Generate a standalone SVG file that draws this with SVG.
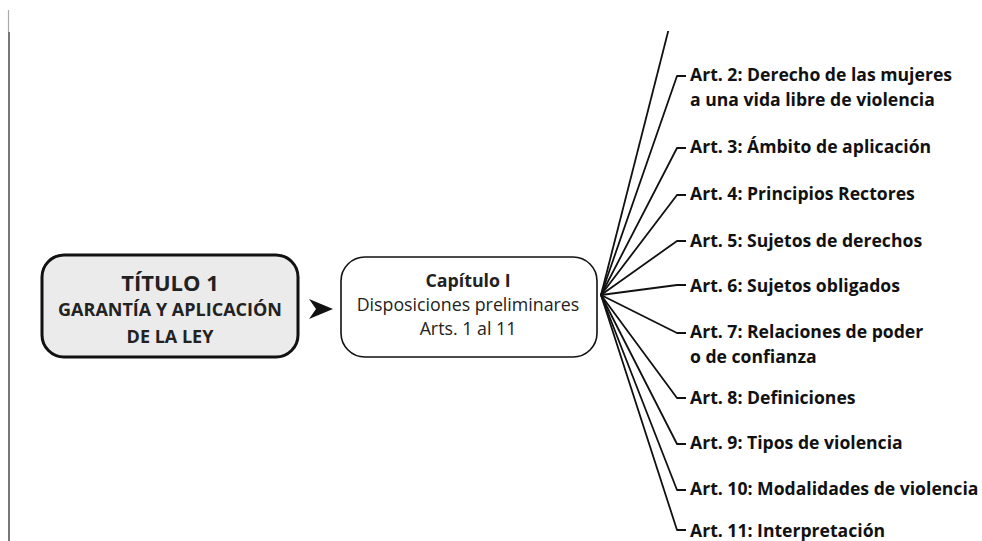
<svg xmlns="http://www.w3.org/2000/svg" width="982" height="541" viewBox="0 0 982 541">
<defs>
<style>
.lbl{font-family:"Open Sans",Lato,"Liberation Sans",sans-serif;font-weight:700;font-size:17.6px;fill:#111}
.con{fill:none;stroke:#111;stroke-width:1.8;stroke-linejoin:round}
.ttl{font-family:"Open Sans",Lato,"Liberation Sans",sans-serif;font-weight:700;fill:#222;text-anchor:middle}
.cap{font-family:"Open Sans",Lato,"Liberation Sans",sans-serif;fill:#222;text-anchor:middle;font-size:17.8px}
</style>
<clipPath id="top"><rect x="0" y="31" width="982" height="510"/></clipPath>
</defs>
<rect width="982" height="541" fill="#fff"/>
<line x1="8.5" y1="10" x2="8.5" y2="32" stroke="#aaa" stroke-width="1.2"/>
<line x1="9" y1="32" x2="9" y2="541" stroke="#555" stroke-width="1.6"/>

<g id="titulo">
<rect x="42" y="255" width="256" height="102" rx="22" ry="22" fill="#ebebeb" stroke="#111" stroke-width="3"/>
<text class="ttl" x="170" y="291" font-size="22">TÍTULO 1</text>
<text class="ttl" x="170" y="316" font-size="18">GARANTÍA Y APLICACIÓN</text>
<text class="ttl" x="170" y="343" font-size="18">DE LA LEY</text>
</g>

<g id="capitulo">
<rect x="341" y="257" width="256" height="100" rx="24" ry="24" fill="#fff" stroke="#111" stroke-width="1.6"/>
<text class="cap" x="468" y="287" font-weight="700" font-size="17">Capítulo I</text>
<text class="cap" x="468" y="311">Disposiciones preliminares</text>
<text class="cap" x="468" y="335">Arts. 1 al 11</text>
</g>

<g id="connectors">
<polygon points="309,299 333,309 309,319 316,309" fill="#111"/>
<g clip-path="url(#top)">
<path class="con" d="M601,295 L669,28"/>
</g>
<path class="con" d="M601,295 L677,76 H686"/>
<path class="con" d="M601,295 L677,148 H686"/>
<path class="con" d="M601,295 L677,195 H686"/>
<path class="con" d="M601,295 L677,241 H686"/>
<path class="con" d="M601,295 L677,285 H686"/>
<path class="con" d="M601,295 L677,333 H686"/>
<path class="con" d="M601,295 L677,398 H686"/>
<path class="con" d="M601,295 L677,444 H686"/>
<path class="con" d="M601,295 L677,490 H686"/>
<path class="con" d="M601,295 L677,530 H686"/>
</g>

<g id="art2"><text class="lbl" x="690" y="81">Art. 2: Derecho de las mujeres</text><text class="lbl" x="690" y="106">a una vida libre de violencia</text></g>
<g id="art3"><text class="lbl" x="690" y="153">Art. 3: Ámbito de aplicación</text></g>
<g id="art4"><text class="lbl" x="690" y="200">Art. 4: Principios Rectores</text></g>
<g id="art5"><text class="lbl" x="690" y="247">Art. 5: Sujetos de derechos</text></g>
<g id="art6"><text class="lbl" x="690" y="292">Art. 6: Sujetos obligados</text></g>
<g id="art7"><text class="lbl" x="690" y="338">Art. 7: Relaciones de poder</text><text class="lbl" x="690" y="363">o de confianza</text></g>
<g id="art8"><text class="lbl" x="690" y="404">Art. 8: Definiciones</text></g>
<g id="art9"><text class="lbl" x="690" y="449">Art. 9: Tipos de violencia</text></g>
<g id="art10"><text class="lbl" x="690" y="495">Art. 10: Modalidades de violencia</text></g>
<g id="art11"><text class="lbl" x="690" y="537">Art. 11: Interpretación</text></g>
</svg>
